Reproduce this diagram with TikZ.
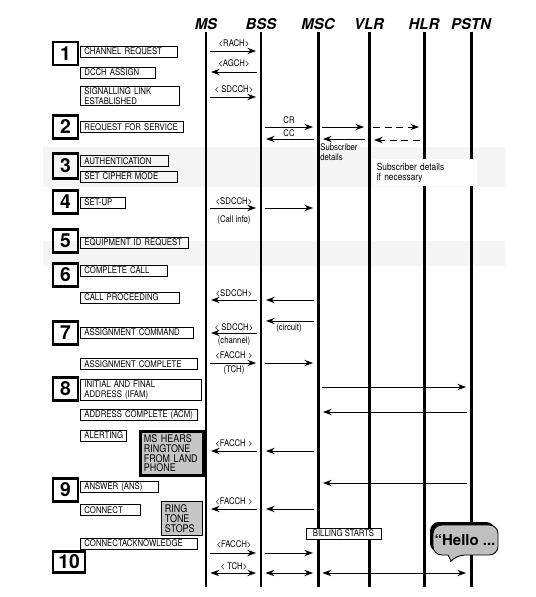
\documentclass[tikz,border=0pt]{standalone}
\usepackage{fontspec}
\setmainfont{TeX Gyre Heros}
\newfontfamily\narrowfont{TeX Gyre Heros}[FakeStretch=0.85]
\usetikzlibrary{arrows.meta}

\begin{document}
\begin{tikzpicture}[x=0.02cm, y=-0.02cm, >={Stealth[length=5pt,width=3.6pt]},
  head/.style={font=\fontsize{8.5}{9}\selectfont\bfseries\itshape, inner sep=0},
  life/.style={line width=1.7pt},
  msg/.style={->, line width=0.55pt, shorten <=2.5pt, shorten >=2.8pt},
  chan/.style={font=\narrowfont\fontsize{5.2}{5.6}\selectfont, inner sep=0, align=center},
  lbl/.style={draw, line width=0.5pt, anchor=west, inner xsep=0.08cm, inner ysep=0.5pt,
    minimum height=0.22cm, align=left, font=\narrowfont\fontsize{5.2}{5.6}\selectfont},
  stepbox/.style={draw, line width=1.6pt, minimum width=0.5cm, minimum height=0.46cm,
    inner sep=0, font=\fontsize{11}{11}\selectfont\bfseries},
  note/.style={draw, fill=gray!45, anchor=north west, align=left, inner sep=0.07cm,
    font=\narrowfont\fontsize{6}{5.5}\selectfont}]

\useasboundingbox (0,0) rectangle (536,597);

% shaded bands
\fill[gray!8] (43,147) rectangle (505,187);
\fill[gray!8] (43,241) rectangle (505,266);

% lifelines
\node[head] (hms) at (206,24) {MS};
\node[head] (hbss) at (261,24) {BSS};
\node[head] (hmsc) at (318,24) {MSC};
\node[head] (hvlr) at (369,24) {VLR};
\node[head] (hhlr) at (424,24) {HLR};
\node[head] (hpstn) at (471,24) {PSTN};

\coordinate (ms) at (206,32);   \coordinate (msE) at (206,587);
\coordinate (bss) at (261,32);  \coordinate (bssE) at (261,587);
\coordinate (msc) at (318,32);  \coordinate (mscE) at (318,587);
\coordinate (vlr) at (369,32);  \coordinate (vlrE) at (369,587);
\coordinate (hlr) at (424,32);  \coordinate (hlrE) at (424,587);
\coordinate (pstn) at (471,32); \coordinate (pstnE) at (471,587);

\draw[life] (ms) -- (msE);
\draw[life] (bss) -- (bssE);
\draw[life] (msc) -- (mscE);
\draw[life] (vlr) -- (vlrE);
\draw[life] (hlr) -- (hlrE);
\draw[life] (pstn) -- (pstnE);

% step 1
\node[stepbox] (s1) at (65.5,53.5) {1};
\node[lbl, text width=1.78cm] (l1a) at (80,51.5) {CHANNEL REQUEST};
\node[lbl, text width=1.34cm] (l1b) at (80,72.5) {DCCH ASSIGN};
\node[lbl, text width=1.82cm] (l1c) at (80,96) {SIGNALLING LINK\\ESTABLISHED};
\node[chan] (c1a) at (234,43) {<RACH>};
\draw[msg] (ms |- 0,51) -- (bss |- 0,51);
\node[chan] (c1b) at (234,63) {<AGCH>};
\draw[msg] (bss |- 0,72) -- (ms |- 0,72);
\node[chan] (c1c) at (234,89) {< SDCCH>};
\draw[msg] (ms |- 0,97) -- (bss |- 0,97);

% step 2
\node[stepbox] (s2) at (65.5,127) {2};
\node[lbl, text width=1.90cm] (l2) at (80,127) {REQUEST FOR SERVICE};
\node[chan] (c2a) at (289,120) {CR};
\draw[msg] (bss |- 0,127) -- (msc |- 0,127);
\draw[msg] (msc |- 0,127) -- (vlr |- 0,127);
\draw[msg, dashed, dash pattern=on 4pt off 2.5pt] (vlr |- 0,127) -- (hlr |- 0,127);
\node[chan] (c2b) at (289,133) {CC};
\draw[msg] (msc |- 0,139) -- (bss |- 0,139);
\draw[msg] (vlr |- 0,139) -- (msc |- 0,139);
\draw[msg, dashed, dash pattern=on 4pt off 2.5pt] (hlr |- 0,140) -- (vlr |- 0,140);
\node[chan, anchor=north west, align=left] (sub) at (320,143) {Subscriber\\details};
\node[fill=white, anchor=north west, align=left, inner sep=0.07cm,
  font=\narrowfont\fontsize{5.6}{5.6}\selectfont, minimum width=2.08cm, minimum height=0.38cm,
  text width=1.94cm] (subhlr) at (373,159) {Subscriber details\\if necessary};

% step 3
\node[stepbox, minimum height=0.5cm] (s3) at (65.5,166) {3};
\node[lbl, text width=1.60cm] (l3a) at (80,161) {AUTHENTICATION};
\node[lbl, text width=1.78cm] (l3b) at (80,176.5) {SET CIPHER MODE};

% step 4
\node[stepbox] (s4) at (65.5,202) {4};
\node[lbl, text width=0.74cm] (l4) at (80,202.5) {SET-UP};
\node[chan] (c4a) at (234,201) {<SDCCH>};
\draw[msg] (ms |- 0,208) -- (bss |- 0,208);
\node[chan] (c4b) at (234,220) {(Call info)};
\draw[msg] (bss |- 0,208) -- (msc |- 0,208);

% step 5
\node[stepbox] (s5) at (65.5,241) {5};
\node[lbl, text width=2.00cm] (l5) at (80,242.5) {EQUIPMENT ID REQUEST};

% step 6
\node[stepbox] (s6) at (65.5,275) {6};
\node[lbl, text width=1.58cm] (l6a) at (80,270.5) {COMPLETE CALL};
\node[lbl, text width=1.82cm] (l6b) at (80,297.5) {CALL PROCEEDING};
\node[chan] (c6) at (234,293) {<SDCCH>};
\draw[msg] (bss |- 0,300) -- (ms |- 0,300);
\draw[msg] (msc |- 0,300) -- (bss |- 0,300);

% step 7
\node[stepbox] (s7) at (65.5,333) {7};
\node[lbl, text width=2.10cm] (l7a) at (80,332.5) {ASSIGNMENT COMMAND};
\node[lbl, text width=2.18cm] (l7b) at (80,364) {ASSIGNMENT COMPLETE};
\draw[msg] (msc |- 0,321) -- (bss |- 0,321);
\node[chan] (c7a) at (289,328) {(circuit)};
\node[chan] (c7b) at (234,327) {< SDCCH>};
\draw[msg] (bss |- 0,333) -- (ms |- 0,333);
\node[chan] (c7c) at (234,341) {(channel)};
\node[chan] (c7d) at (234,355) {<FACCH >};
\draw[msg] (ms |- 0,363) -- (bss |- 0,363);
\node[chan] (c7e) at (234,370) {(TCH)};
\draw[msg] (bss |- 0,363) -- (msc |- 0,363);

% step 8
\node[stepbox] (s8) at (65.5,389) {8};
\node[lbl, text width=2.26cm] (l8a) at (80,390) {INITIAL AND FINAL\\ADDRESS (IFAM)};
\node[lbl, text width=2.18cm] (l8b) at (80,415) {ADDRESS COMPLETE (ACM)};
\node[lbl, text width=0.76cm] (l8c) at (80,435.5) {ALERTING};
\node[note, line width=1.6pt, minimum width=1.26cm, minimum height=0.82cm, text width=1.12cm]
  (ring) at (139,430) {MS HEARS\\RINGTONE\\FROM LAND\\PHONE};
\draw[msg] (msc |- 0,387) -- (pstn |- 0,387);
\draw[msg] (pstn |- 0,412) -- (msc |- 0,412);
\node[chan] (c8) at (234,443) {<FACCH >};
\draw[msg] (bss |- 0,451) -- (ms |- 0,451);
\draw[msg] (msc |- 0,451) -- (bss |- 0,451);

% step 9
\node[stepbox] (s9) at (65.5,490) {9};
\node[lbl, text width=1.40cm] (l9a) at (80,487) {ANSWER (ANS)};
\node[lbl, text width=1.04cm] (l9b) at (80,510) {CONNECT};
\node[note, line width=0.5pt, minimum width=0.82cm, minimum height=0.62cm, text width=0.68cm]
  (stops) at (161,501) {RING\\TONE\\STOPS};
\node[lbl, text width=2.18cm] (l9c) at (80,543.5) {CONNECTACKNOWLEDGE};
\draw[msg] (pstn |- 0,483) -- (msc |- 0,483);
\node[chan] (c9a) at (234,501) {<FACCH >};
\draw[msg] (bss |- 0,509) -- (ms |- 0,509);
\draw[msg] (msc |- 0,509) -- (bss |- 0,509);
\node[chan] (c9b) at (234,544) {<FACCH>};
\draw[msg] (ms |- 0,553) -- (bss |- 0,553);
\draw[msg] (bss |- 0,553) -- (msc |- 0,553);

% step 10
\node[stepbox, minimum width=0.64cm, minimum height=0.42cm] (s10) at (69,562) {10};
\node[chan] (c10) at (234,566) {< TCH>};
\draw[msg, <->] (ms |- 0,573) -- (bss |- 0,573);
\draw[msg, <->] (bss |- 0,573) -- (msc |- 0,573);
\draw[msg, <->] (msc |- 0,573) -- (pstn |- 0,573);

\node[draw, fill=white, line width=0.5pt, minimum width=1.5cm, minimum height=0.22cm,
  inner sep=0.5pt, font=\narrowfont\fontsize{5.2}{5.6}\selectfont] (bill) at (343.5,533.5) {BILLING STARTS};

% speech bubble
\fill[black, rounded corners=5] (430,522) rectangle (495,552);
\draw[fill=gray!50, line width=0.5pt] (433,540) [rounded corners=5] -- (433,525) -- (498,525)
  -- (498,555) -- (456,555) [sharp corners] -- (451,561) -- (448,555)
  [rounded corners=5] -- (433,555) -- cycle;
\node[font=\fontsize{8.5}{9}\selectfont\bfseries, inner sep=0] (hello) at (465,540) {“Hello ...};

\end{tikzpicture}
\end{document}
